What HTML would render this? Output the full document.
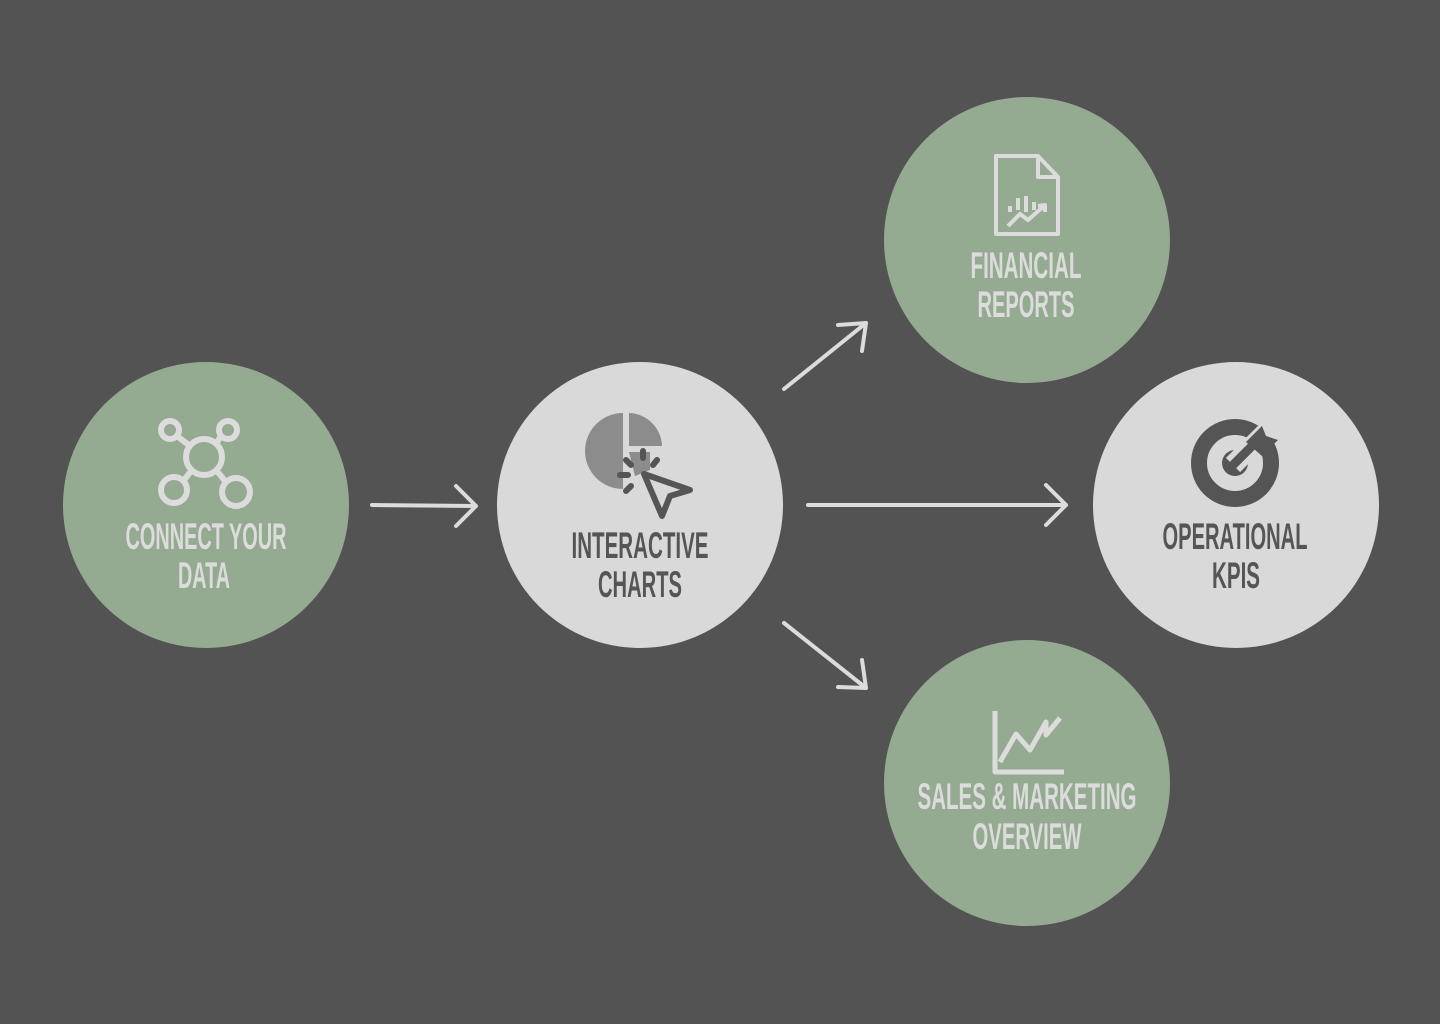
<!DOCTYPE html>
<html><head><meta charset="utf-8"><style>
html,body{margin:0;padding:0;background:#535353;}
svg{display:block;}
text{font-family:"Liberation Sans",sans-serif;font-weight:bold;font-size:37px;text-anchor:middle;}
</style></head><body>
<svg width="1440" height="1024" viewBox="0 0 1440 1024">
<rect width="1440" height="1024" fill="#535353"/>
<circle cx="206" cy="505" r="143" fill="#95ab91"/>
<circle cx="640" cy="505" r="143" fill="#d9d9d9"/>
<circle cx="1027" cy="240" r="143" fill="#95ab91"/>
<circle cx="1236" cy="505" r="143" fill="#d9d9d9"/>
<circle cx="1027" cy="783" r="143" fill="#95ab91"/>
<g stroke="#dcdcdc" stroke-width="4" fill="none" stroke-linecap="round" stroke-linejoin="round">
<path d="M372 505 L476 506 M456 486 L476 506 L456 526"/>
<path d="M808 505 L1066 505 M1046 485 L1066 505 L1046 525"/>
<path d="M784 389 L866 323 M838 325 L866 323 L862 351"/>
<path d="M784 623 L866 688 M862 660 L866 688 L838 687"/>
</g>
<g stroke="#dcdcdc" stroke-width="6" fill="none">
<circle cx="204" cy="457" r="18"/>
<circle cx="170" cy="430" r="9"/>
<circle cx="228" cy="430" r="9"/>
<circle cx="174" cy="490" r="13"/>
<circle cx="236" cy="492" r="14"/>
<path d="M177 436 L190 446 M221 436 L216 444 M184 480 L192 470 M226 482 L216 470"/>
</g>
<path d="M623 413 A38 38 0 0 0 623 489 Z" fill="#8c8c8c"/>
<path d="M629 413 A34 34 0 0 1 662 446 L629 446 Z" fill="#8c8c8c"/>
<path d="M629 452 L650 452 L650 470 L635 476 Z" fill="#8c8c8c"/>
<g stroke="#555" stroke-width="6" stroke-linecap="round" fill="none" stroke-linejoin="round">
<path d="M644 474 L690 490 L670 496 L662 516 Z"/>
<path d="M643 451 L643 458 M626 460 L631 465 M620 475 L628 475 M626 491 L631 486 M657 460 L653 465"/>
</g>
<g stroke="#dcdcdc" stroke-width="4" fill="none" stroke-linejoin="round">
<path d="M996 156 L1038 156 L1058 177 L1058 234 L996 234 Z"/>
<path d="M1038 156 L1038 177 L1058 177"/>
<path d="M1008 226 L1020 214 L1028 220 L1044 206 M1038 206 L1045 205 L1045 212"/>
<path d="M1010 212 L1010 206 M1018 210 L1018 198 M1026 212 L1026 196 M1034 210 L1034 202"/>
</g>
<!-- target icon -->
<circle cx="1235" cy="463" r="36" fill="none" stroke="#555" stroke-width="16"/>
<circle cx="1235" cy="463" r="13" fill="#555"/>
<path d="M1233 465 L1275 423" stroke="#d9d9d9" stroke-width="20" stroke-linecap="butt"/>
<path d="M1229 469 L1256 442" stroke="#555" stroke-width="9" stroke-linecap="round"/>
<path d="M1246 442 L1262 426 L1266 436 L1278 440 L1262 456 Z" fill="#555"/>
<!-- sales icon -->
<g stroke="#dcdcdc" stroke-width="5" fill="none" stroke-linejoin="round">
<path d="M995 711 L995 772 L1064 772"/>
<path d="M1000 762 L1016 734 L1030 750 L1046 722 L1046 735 L1060 718"/>
</g>
<g fill="#dcdcdc">
<text x="206" y="549" textLength="161" lengthAdjust="spacingAndGlyphs">CONNECT YOUR</text>
<text x="204" y="588" textLength="52" lengthAdjust="spacingAndGlyphs">DATA</text>
<text x="1026" y="278" textLength="111" lengthAdjust="spacingAndGlyphs">FINANCIAL</text>
<text x="1026" y="317" textLength="97" lengthAdjust="spacingAndGlyphs">REPORTS</text>
<text x="1027" y="809" textLength="219" lengthAdjust="spacingAndGlyphs">SALES &amp; MARKETING</text>
<text x="1027" y="849" textLength="109" lengthAdjust="spacingAndGlyphs">OVERVIEW</text>
</g>
<g fill="#555">
<text x="640" y="558" textLength="137" lengthAdjust="spacingAndGlyphs">INTERACTIVE</text>
<text x="640" y="597" textLength="84" lengthAdjust="spacingAndGlyphs">CHARTS</text>
<text x="1235" y="549" textLength="145" lengthAdjust="spacingAndGlyphs">OPERATIONAL</text>
<text x="1236" y="588" textLength="48" lengthAdjust="spacingAndGlyphs">KPIS</text>
</g>
</svg>
</body></html>
